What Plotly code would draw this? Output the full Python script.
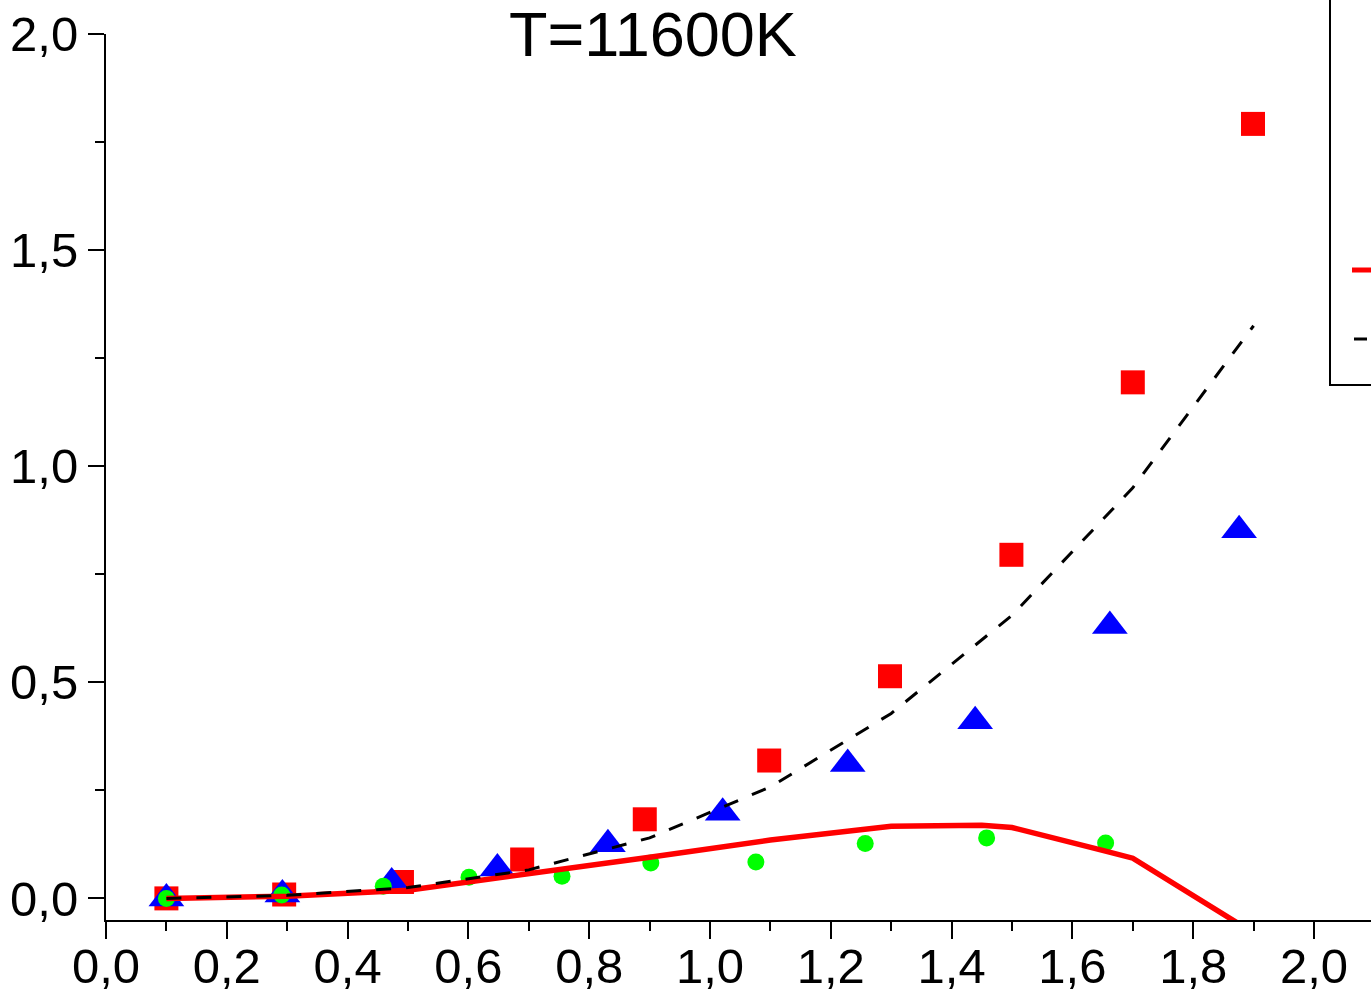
import plotly.graph_objects as go

# ---- data ----
x_squares = [0.10, 0.295, 0.49, 0.689, 0.892, 1.098, 1.298, 1.499, 1.70, 1.899]
y_squares = [0.0, 0.009, 0.038, 0.090, 0.183, 0.319, 0.514, 0.795, 1.194, 1.792]

x_triangles = [0.10, 0.292, 0.473, 0.648, 0.831, 1.021, 1.228, 1.439, 1.662, 1.876]
y_triangles = [0.0, 0.009, 0.037, 0.069, 0.125, 0.198, 0.311, 0.410, 0.630, 0.852]

x_circles = [0.10, 0.291, 0.459, 0.601, 0.755, 0.902, 1.076, 1.257, 1.458, 1.655]
y_circles = [0.0, 0.008, 0.028, 0.049, 0.051, 0.082, 0.084, 0.127, 0.140, 0.128]

x_red_line = [0.1, 0.3, 0.5, 0.7, 0.9, 1.1, 1.3, 1.45, 1.5, 1.65, 1.7, 1.9]
y_red_line = [0.0, 0.005, 0.019, 0.056, 0.095, 0.135, 0.167, 0.169, 0.164, 0.111, 0.093, -0.08]

x_dash_line = [0.1, 0.3, 0.5, 0.7, 0.9, 1.1, 1.3, 1.5, 1.7, 1.9]
y_dash_line = [0.0, 0.007, 0.025, 0.066, 0.140, 0.258, 0.428, 0.655, 0.950, 1.325]

x_tick_values = [0.0, 0.2, 0.4, 0.6, 0.8, 1.0, 1.2, 1.4, 1.6, 1.8, 2.0]
y_tick_values = [0.0, 0.5, 1.0, 1.5, 2.0]
title_text = "T=11600K"

FONT = "Liberation Sans, Arial, Helvetica, sans-serif"
W, H = 1371, 993
ML, MR, MT, MB = 106, 0, 34, 73
PW, PH = W - ML - MR, H - MT - MB
XPX = 604.0  # px per x unit

fig = go.Figure()
fig.add_trace(go.Scatter(x=x_squares, y=y_squares, mode="markers", name="squares",
                         marker=dict(symbol="square", size=24, color="#FF0000", line=dict(width=0)),
                         showlegend=False))
fig.add_trace(go.Scatter(x=x_triangles, y=y_triangles, mode="markers", name="triangles",
                         marker=dict(symbol="triangle-up", size=31, color="#0000FF", line=dict(width=0)),
                         showlegend=False))
fig.add_trace(go.Scatter(x=x_circles, y=y_circles, mode="markers", name="circles",
                         marker=dict(symbol="circle", size=17, color="#00FF00", line=dict(width=0)),
                         showlegend=False))
fig.add_trace(go.Scatter(x=x_red_line, y=y_red_line, mode="lines", name="model 1",
                         line=dict(color="#FF0000", width=5.5), showlegend=False))
fig.add_trace(go.Scatter(x=x_dash_line, y=y_dash_line, mode="lines", name="model 2",
                         line=dict(color="#000000", width=3, dash="15px,15px"), showlegend=False))

axis_common = dict(
    showline=True, linecolor="black", linewidth=2, mirror=False,
    ticks="outside", tickwidth=2, tickcolor="black",
    showgrid=False, zeroline=False, automargin=False,
    tickfont=dict(family=FONT, size=49, color="black"),
    tickformat=".1f",
)

fig.update_layout(
    width=W, height=H,
    margin=dict(l=ML, r=MR, t=MT, b=MB, pad=0, autoexpand=False),
    paper_bgcolor="white", plot_bgcolor="white",
    separators=",.",
    font=dict(family=FONT, color="black"),
    xaxis=dict(range=[0, PW / XPX], tickmode="array", tickvals=x_tick_values, ticklen=17,
               ticklabelstandoff=-15,
               minor=dict(ticks="outside", ticklen=9, tickwidth=2, tickcolor="black", dtick=0.1, tick0=0),
               **axis_common),
    yaxis=dict(range=[-0.05, 2.0], tickmode="array", tickvals=y_tick_values, ticklen=16,
               minor=dict(ticks="outside", ticklen=9, tickwidth=2, tickcolor="black", dtick=0.25, tick0=0),
               **axis_common),
    showlegend=False,
)

# title
fig.add_annotation(text=title_text, xref="paper", yref="paper",
                   x=(653 - ML) / PW, y=1 + (MT - 34) / PH, xanchor="center", yanchor="middle",
                   showarrow=False, font=dict(family=FONT, size=63, color="black"))

# legend box (partly outside the visible page, as in the reference)
def px_x(p):
    return (p - ML) / PW

def px_y(p):
    return (H - MB - p) / PH

fig.add_shape(type="rect", xref="paper", yref="paper",
              x0=px_x(1330), x1=px_x(1500), y0=px_y(385), y1=px_y(-40),
              line=dict(color="black", width=2), fillcolor="rgba(0,0,0,0)", layer="above")
fig.add_shape(type="line", xref="paper", yref="paper",
              x0=px_x(1352), x1=px_x(1400), y0=px_y(270), y1=px_y(270),
              line=dict(color="#FF0000", width=5))
fig.add_shape(type="line", xref="paper", yref="paper",
              x0=px_x(1354), x1=px_x(1367), y0=px_y(339), y1=px_y(339),
              line=dict(color="#000000", width=3))

fig.write_html("out.html", config={"displayModeBar": False},
               post_script="document.body.style.margin='0';document.body.style.overflow='hidden';")
